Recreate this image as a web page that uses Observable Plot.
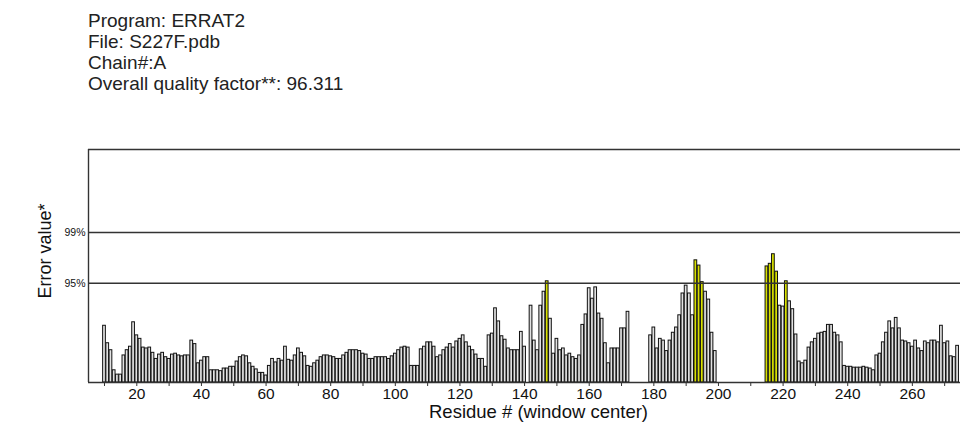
<!DOCTYPE html>
<html>
<head>
<meta charset="utf-8">
<script src="https://cdn.jsdelivr.net/npm/d3@7"></script>
<script src="https://cdn.jsdelivr.net/npm/@observablehq/plot@0.6"></script>
<style>
  html, body { margin: 0; padding: 0; background: #fff; overflow: hidden; }
  body { font-family: "Liberation Sans", Arial, sans-serif; }
  #header { height: 110px; box-sizing: border-box; padding: 10px 0 0 88px; font-size: 19px; line-height: 21px; color: #222; }
  #chart svg { display: block; }
</style>
</head>
<body>
<div id="header"></div>
<div id="chart"></div>
<script>
const headerLines = ["Program: ERRAT2", "File: S227F.pdb", "Chain#:A", "Overall quality factor**: 96.311"];

// Error values per residue (window center), starting at residue 10; null = no window
const firstResidue = 10;
const errorValues = [
  6.5, 4.5, 3.7, 1.4, 0.9, 0.9, 3.1, 3.7, 4.1, 6.9,   // 10-19
  5.4, 5.0, 4.0, 3.9, 4.0, 3.4, 2.7, 3.2, 3.4, 2.9,   // 20-29
  2.7, 3.2, 3.3, 3.1, 3.0, 3.1, 3.1, 4.8, 4.4, 2.2,   // 30-39
  2.5, 2.9, 2.9, 1.4, 1.4, 1.4, 1.3, 1.6, 1.6, 1.8,   // 40-49
  1.8, 2.4, 2.9, 3.1, 3.0, 2.2, 1.8, 1.5, 1.1, 1.1,   // 50-59
  0.8, 1.9, 2.7, 2.3, 2.7, 2.5, 4.1, 2.6, 2.5, 3.1,   // 60-69
  3.9, 3.4, 3.0, 1.9, 1.8, 2.2, 2.5, 2.9, 3.1, 3.1,   // 70-79
  3.0, 2.9, 2.7, 2.7, 3.1, 3.4, 3.7, 3.7, 3.7, 3.6,   // 80-89
  3.3, 3.2, 2.7, 2.7, 2.9, 2.9, 2.9, 2.9, 2.7, 3.0,   // 90-99
  3.3, 3.7, 4.0, 4.1, 4.0, 1.9, 1.9, 1.9, 3.8, 4.1,   // 100-109
  4.6, 4.6, 4.1, 2.9, 3.1, 3.7, 4.0, 4.4, 4.0, 4.7,   // 110-119
  5.0, 5.4, 4.6, 4.1, 3.7, 3.2, 2.7, 2.7, 1.8, 5.4,   // 120-129
  5.6, 8.5, 7.0, 5.3, 4.9, 3.9, 3.7, 3.7, 3.7, 5.8,   // 130-139
  4.1, null, 8.8, 4.8, 3.7, 8.8, 10.4, 11.6, 7.3, 3.3, // 140-149
  5.0, 3.7, 3.9, 3.1, 3.3, 2.9, 2.7, 3.1, 6.6, 7.8,   // 150-159
  10.8, 9.6, 10.9, 7.9, 7.3, 4.5, 2.2, 3.9, 3.9, 3.9, // 160-169
  6.2, 6.2, 8.1, null, null, null, null, null, null, 5.4, // 170-179
  6.3, 3.9, 5.0, 4.8, 3.6, 4.8, 5.7, 6.3, 7.7, 10.2,  // 180-189
  11.1, 10.2, 7.7, 14.0, 13.4, 11.5, 10.4, 9.5, 5.7, 3.6, // 190-199
  null, null, null, null, null, null, null, null, null, null, // 200-209
  null, null, null, null, null, 13.3, 13.6, 14.7, 12.7, 8.8, // 210-219
  8.7, 11.6, 9.3, 8.4, 5.5, 2.4, 2.2, 2.5, 4.0, 4.6,  // 220-229
  5.0, 5.6, 5.7, 5.8, 6.6, 6.6, 5.7, 5.4, 4.6, 1.9,   // 230-239
  1.8, 1.8, 1.7, 1.7, 1.7, 1.8, 1.7, 1.6, 1.4, 3.1,   // 240-249
  3.3, 4.6, 5.7, 7.0, 6.2, 7.4, 6.2, 4.8, 4.7, 4.5,   // 250-259
  4.1, 4.8, 3.9, 3.6, 4.7, 4.5, 4.8, 4.8, 4.6, 6.5,   // 260-269
  4.5, 4.7, 3.0, 2.9, 4.2                             // 270-274
];

const thresholdValues = [11.38, 17.19];
const thresholdLabels = ["95%", "99%"];
const xTickValues = [10, 20, 30, 40, 50, 60, 70, 80, 90, 100, 110, 120, 130, 140, 150, 160, 170, 180, 190, 200, 210, 220, 230, 240, 250, 260, 270];
const xLabelValues = [20, 40, 60, 80, 100, 120, 140, 160, 180, 200, 220, 240, 260];
const xDomain = [5.05, 274.9];
const yMax = 26.7;
const xLabel = "Residue # (window center)";
const yLabel = "Error value*";

document.getElementById("header").innerHTML = headerLines.map(t => `<div>${t}</div>`).join("");

const data = errorValues
  .map((v, i) => ({residue: firstResidue + i, value: v}))
  .filter(d => d.value != null);

const barFill = d => d.value >= thresholdValues[1] ? "#e00000" : d.value >= thresholdValues[0] ? "#d8e000" : "#e2e2e2";

const chart = Plot.plot({
  width: 960,
  height: 315,
  marginTop: 39,
  marginBottom: 43,
  marginLeft: 88,
  marginRight: 0,
  x: {domain: xDomain},
  y: {domain: [0, yMax], axis: null},
  style: {fontFamily: "'Liberation Sans', Arial, sans-serif", color: "#111", background: "white", overflow: "visible"},
  marks: [
    Plot.rectY(data, {
      x1: d => d.residue - 0.5,
      x2: d => d.residue + 0.5,
      y1: 0,
      y2: "value",
      fill: barFill,
      stroke: "#111",
      strokeWidth: 1,
      insetLeft: 0.25,
      insetRight: 0.25
    }),
    Plot.ruleY(thresholdValues, {stroke: "#333", strokeWidth: 1.4}),
    Plot.ruleY([0, yMax], {stroke: "#333", strokeWidth: 1.4}),
    Plot.ruleX([xDomain[0]], {stroke: "#333", strokeWidth: 1.4}),
    Plot.text(thresholdValues, {y: d => d, text: (d, i) => thresholdLabels[i], frameAnchor: "left", textAnchor: "end", dx: -3, fontSize: 10.5}),
    Plot.axisX({ticks: xTickValues, tickFormat: () => "", tickSize: 4, label: null, stroke: "#333"}),
    Plot.axisX({ticks: xLabelValues, tickSize: 0, tickPadding: 5, fontSize: 15.5, label: null}),
    Plot.text([xLabel], {text: d => d, frameAnchor: "bottom", lineAnchor: "middle", dy: 30, dx: 14, fontSize: 18.5}),
    Plot.text([yLabel], {text: d => d, frameAnchor: "left", textAnchor: "middle", lineAnchor: "middle", rotate: -90, dx: -43, dy: -15, fontSize: 18})
  ]
});
document.getElementById("chart").appendChild(chart);
</script>
</body>
</html>
